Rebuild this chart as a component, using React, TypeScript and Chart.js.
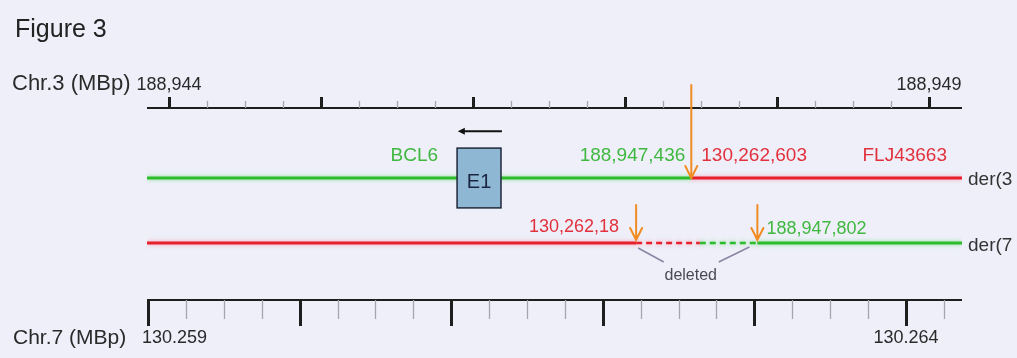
import React, { useEffect, useRef } from 'react';
import { Chart, registerables } from 'chart.js';

Chart.register(...registerables);

// ---- data (kb coordinates) ----
const chr3Range = [188943.855, 188949.217]; // top axis, Chr.3
const chr7Range = [130258.993, 130264.37]; // bottom axis, Chr.7
const chr3LabelValues = [188944, 188949];
const chr3TickLabels = ['188,944', '188,949'];
const chr7LabelValues = [130259, 130264];
const chr7TickLabels = ['130.259', '130.264'];
const tickStep = 0.25;
const rowValues = [2, 1];
const rowLabels = ['der(3', 'der(7'];
const yRange = [0.123, 3.077];

const der3Break = 188947.436; // Chr.3 breakpoint on der(3)
const der7Breaks = [130262.22, 130262.64, 130263.02]; // deletion start, colour switch, deletion end (Chr.7 scale)
const exonE1 = [188945.895, 188946.184]; // E1 box on Chr.3
const transcriptDir = [188946.19, 188945.9]; // BCL6 transcription arrow

const geneLabels = ['BCL6', 'FLJ43663'];
const der3BreakLabels = ['188,947,436', '130,262,603'];
const der7BreakLabels = ['130,262,18', '188,947,802'];

const GREEN = '#2cbd2c';
const RED = '#e6202c';
const GREEN_TXT = '#3fb83f';
const RED_TXT = '#e2313d';
const ORANGE = '#f08c22';
const BG = '#eeeff9';
const FONT = '"Liberation Sans", Arial, sans-serif';

function text(ctx: CanvasRenderingContext2D, s: string, x: number, y: number, size: number, color: string, align: CanvasTextAlign = 'left') {
  ctx.save();
  ctx.font = `${size}px ${FONT}`;
  ctx.fillStyle = color;
  ctx.textAlign = align;
  ctx.textBaseline = 'middle';
  ctx.fillText(s, x, y);
  ctx.restore();
}

function arrowDown(ctx: CanvasRenderingContext2D, x: number, yTop: number, yTip: number, color: string, head: number) {
  ctx.save();
  ctx.strokeStyle = color;
  ctx.lineWidth = 2;
  ctx.lineCap = 'round';
  ctx.beginPath();
  ctx.moveTo(x, yTop);
  ctx.lineTo(x, yTip);
  ctx.moveTo(x - head * 0.5, yTip - head);
  ctx.lineTo(x, yTip);
  ctx.lineTo(x + head * 0.5, yTip - head);
  ctx.stroke();
  ctx.restore();
}

// build ticks on every step inside the scale range (library hook)
function stepTicks(scale: any) {
  const out: { value: number }[] = [];
  const first = Math.ceil(scale.min / tickStep - 1e-9);
  const last = Math.floor(scale.max / tickStep + 1e-9);
  for (let k = first; k <= last; k++) out.push({ value: k * tickStep });
  scale.ticks = out;
}

const diagramPlugin = {
  id: 'diagram',
  beforeDraw(chart: any) {
    const ctx = chart.ctx;
    ctx.save();
    ctx.fillStyle = BG;
    ctx.fillRect(0, 0, chart.width, chart.height);
    ctx.restore();
  },
  beforeDatasetDraw(chart: any, args: any) {
    const ctx = chart.ctx;
    ctx.save();
    const ds = chart.data.datasets[args.index];
    ctx.shadowColor = ds.borderColor === GREEN ? 'rgba(60,210,60,0.55)' : 'rgba(255,90,110,0.5)';
    ctx.shadowBlur = 4;
  },
  afterDatasetDraw(chart: any) {
    chart.ctx.restore();
  },
  afterDraw(chart: any) {
    const ctx: CanvasRenderingContext2D = chart.ctx;
    const xs = chart.scales.x;
    const xb = chart.scales.x2;
    const ys = chart.scales.y;
    const area = chart.chartArea;

    // titles
    text(ctx, 'Figure 3', 15, 30, 25, '#222');
    text(ctx, 'Chr.3 (MBp)', 12, 84, 22, '#2a2a2a');
    text(ctx, 'Chr.7 (MBp)', 13, 338, 21, '#2a2a2a');

    // top axis
    const topY = area.top;
    ctx.save();
    ctx.strokeStyle = '#1e1e1e';
    ctx.lineWidth = 2;
    ctx.beginPath();
    ctx.moveTo(area.left, topY);
    ctx.lineTo(area.right, topY);
    ctx.stroke();
    xs.ticks.forEach((t: any) => {
      const px = Math.round(xs.getPixelForValue(t.value)) + 0.5;
      const major = Math.abs(t.value - Math.round(t.value)) < 1e-6;
      ctx.beginPath();
      ctx.strokeStyle = major ? '#1e1e1e' : '#a5a5b0';
      ctx.lineWidth = major ? 3 : 1.3;
      ctx.moveTo(px, topY);
      ctx.lineTo(px, topY - (major ? 11 : 7));
      ctx.stroke();
    });
    ctx.restore();
    chr3LabelValues.forEach((v, i) => text(ctx, chr3TickLabels[i], xs.getPixelForValue(v), 85, 18, '#2a2a2a', 'center'));

    // bottom axis
    const botY = area.bottom;
    ctx.save();
    ctx.strokeStyle = '#1e1e1e';
    ctx.lineWidth = 2;
    ctx.beginPath();
    ctx.moveTo(area.left, botY);
    ctx.lineTo(area.right, botY);
    ctx.stroke();
    xb.ticks.forEach((t: any) => {
      const px = Math.round(xb.getPixelForValue(t.value)) + 0.5;
      const major = Math.abs(t.value - Math.round(t.value)) < 1e-6;
      ctx.beginPath();
      ctx.strokeStyle = major ? '#1e1e1e' : '#a5a5b0';
      ctx.lineWidth = major ? 3 : 1.3;
      ctx.moveTo(px, botY);
      ctx.lineTo(px, botY + (major ? 26 : 19));
      ctx.stroke();
    });
    ctx.restore();
    text(ctx, chr7TickLabels[0], xb.getPixelForValue(chr7LabelValues[0]) - 6, 338, 18, '#2a2a2a', 'left');
    text(ctx, chr7TickLabels[1], xb.getPixelForValue(chr7LabelValues[1]), 338, 18, '#2a2a2a', 'center');

    const r3 = ys.getPixelForValue(rowValues[0]);
    const r7 = ys.getPixelForValue(rowValues[1]);

    // row labels
    text(ctx, rowLabels[0], area.right + 6, r3 + 2, 19, '#333');
    text(ctx, rowLabels[1], area.right + 6, r7 + 3, 19, '#333');

    // exon box
    const e0 = xs.getPixelForValue(exonE1[0]);
    const e1 = xs.getPixelForValue(exonE1[1]);
    const bTop = ys.getPixelForValue(rowValues[0] + 0.46);
    const bBot = ys.getPixelForValue(rowValues[0] - 0.46);
    ctx.save();
    ctx.fillStyle = '#8db7d2';
    ctx.strokeStyle = '#20283a';
    ctx.lineWidth = 1.5;
    ctx.fillRect(e0, bTop, e1 - e0, bBot - bTop);
    ctx.strokeRect(e0, bTop, e1 - e0, bBot - bTop);
    ctx.restore();
    text(ctx, 'E1', (e0 + e1) / 2, r3 + 4, 20, '#1b2440', 'center');

    // transcription direction arrow
    const a0 = xs.getPixelForValue(transcriptDir[0]);
    const a1 = xs.getPixelForValue(transcriptDir[1]);
    const ay = ys.getPixelForValue(rowValues[0] + 0.72);
    ctx.save();
    ctx.strokeStyle = '#111';
    ctx.fillStyle = '#111';
    ctx.lineWidth = 2;
    ctx.beginPath();
    ctx.moveTo(a0, ay);
    ctx.lineTo(a1 + 4, ay);
    ctx.stroke();
    ctx.beginPath();
    ctx.moveTo(a1, ay);
    ctx.lineTo(a1 + 7, ay - 3.5);
    ctx.lineTo(a1 + 7, ay + 3.5);
    ctx.closePath();
    ctx.fill();
    ctx.restore();

    // labels on der(3)
    text(ctx, geneLabels[0], e0 - 19, r3 - 22, 19, GREEN_TXT, 'right');
    const bp3 = xs.getPixelForValue(der3Break);
    text(ctx, der3BreakLabels[0], bp3 - 6, r3 - 22, 19, GREEN_TXT, 'right');
    text(ctx, der3BreakLabels[1], bp3 + 10, r3 - 22, 19, RED_TXT, 'left');
    text(ctx, geneLabels[1], area.right - 15, r3 - 22, 19, RED_TXT, 'right');

    // labels on der(7)
    const d0 = xb.getPixelForValue(der7Breaks[0]);
    const d2 = xb.getPixelForValue(der7Breaks[2]);
    text(ctx, der7BreakLabels[0], d0 - 17, r7 - 16, 18, RED_TXT, 'right');
    text(ctx, der7BreakLabels[1], d2 + 9, r7 - 14, 18, GREEN_TXT, 'left');

    // deleted callout
    const mid = (d0 + d2) / 2 - 6;
    ctx.save();
    ctx.strokeStyle = '#8c84a4';
    ctx.lineWidth = 1.5;
    ctx.beginPath();
    ctx.moveTo(d0 + 2, r7 + 5);
    ctx.lineTo(mid - 27, r7 + 19);
    ctx.moveTo(d2 - 8, r7 + 4);
    ctx.lineTo(mid + 28, r7 + 19);
    ctx.stroke();
    ctx.restore();
    text(ctx, 'deleted', mid, r7 + 33, 16, '#4a4a55', 'center');

    // orange breakpoint arrows
    arrowDown(ctx, bp3, 85, r3, ORANGE, 12);
    arrowDown(ctx, d0, r7 - 38, r7 - 3, ORANGE, 12);
    arrowDown(ctx, d2, r7 - 38, r7 - 3, ORANGE, 12);
  },
};

export default function App() {
  const ref = useRef<HTMLCanvasElement | null>(null);
  useEffect(() => {
    document.body.style.margin = '0';
    document.body.style.background = BG;
    const canvas = ref.current;
    if (!canvas) return;
    const line = (pts: { x: number; y: number }[], color: string, axis: string, dash: number[] = [], width = 3) => ({
      data: pts,
      xAxisID: axis,
      yAxisID: 'y',
      showLine: true,
      borderColor: color,
      backgroundColor: color,
      borderWidth: width,
      borderDash: dash,
      pointRadius: 0,
      tension: 0,
    });
    const chart = new Chart(canvas, {
      type: 'scatter',
      data: {
        datasets: [
          line([{ x: chr3Range[0], y: rowValues[0] }, { x: der3Break, y: rowValues[0] }], GREEN, 'x'),
          line([{ x: der3Break, y: rowValues[0] }, { x: chr3Range[1], y: rowValues[0] }], RED, 'x'),
          line([{ x: chr7Range[0], y: rowValues[1] }, { x: der7Breaks[0], y: rowValues[1] }], RED, 'x2'),
          line([{ x: der7Breaks[0], y: rowValues[1] }, { x: der7Breaks[1], y: rowValues[1] }], RED, 'x2', [6, 4], 2.5),
          line([{ x: der7Breaks[1], y: rowValues[1] }, { x: der7Breaks[2], y: rowValues[1] }], GREEN, 'x2', [6, 4], 2.5),
          line([{ x: der7Breaks[2], y: rowValues[1] }, { x: chr7Range[1], y: rowValues[1] }], GREEN, 'x2'),
        ] as any,
      },
      options: {
        animation: false,
        responsive: false,
        devicePixelRatio: 1,
        layout: { padding: { left: 147, right: 55, top: 108, bottom: 58 } },
        plugins: { legend: { display: false }, tooltip: { enabled: false }, title: { display: false } },
        scales: {
          x: {
            type: 'linear', position: 'top', display: false, min: chr3Range[0], max: chr3Range[1],
            ticks: { display: false, autoSkip: false },
            afterBuildTicks: stepTicks,
          },
          x2: {
            type: 'linear', position: 'bottom', display: false, min: chr7Range[0], max: chr7Range[1],
            ticks: { display: false, autoSkip: false },
            afterBuildTicks: stepTicks,
          },
          y: { type: 'linear', display: false, min: yRange[0], max: yRange[1] },
        },
      } as any,
      plugins: [diagramPlugin],
    });
    return () => chart.destroy();
  }, []);
  return <canvas ref={ref} width={1017} height={358} style={{ display: 'block' }} />;
}
